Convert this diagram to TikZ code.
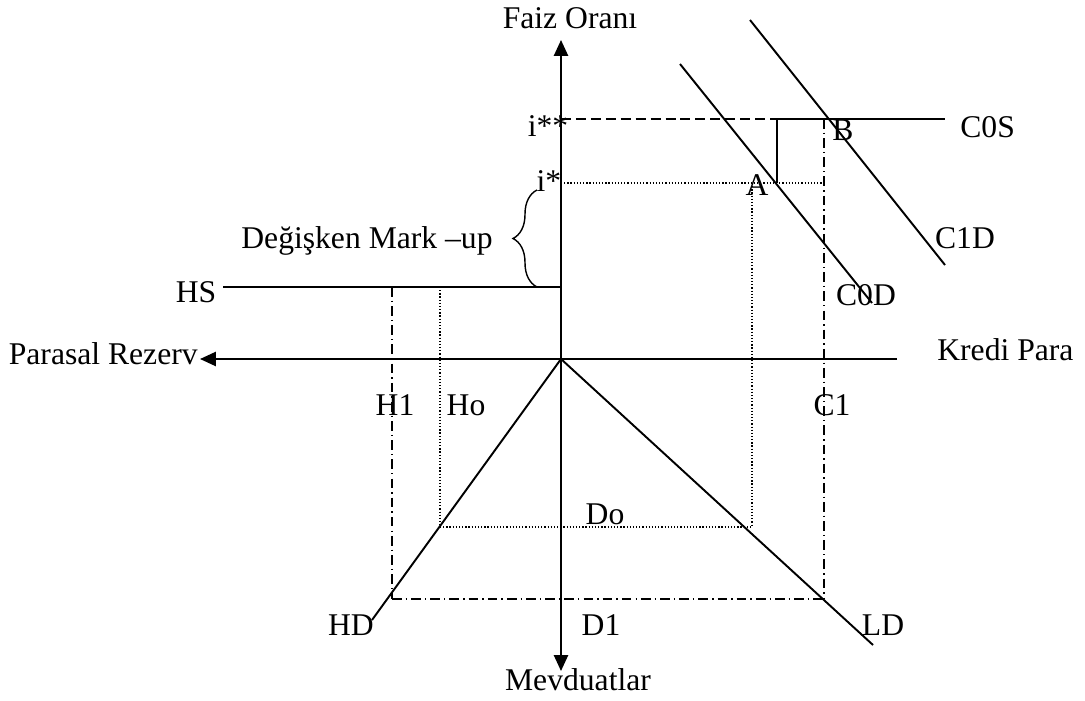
\documentclass[tikz,border=0pt]{standalone}
\usepackage{fontspec}
\setmainfont{Liberation Serif}
\usetikzlibrary{arrows.meta,decorations.pathreplacing}
\begin{document}
\begin{tikzpicture}[x=0.02cm,y=-0.02cm,
  lbl/.style={font=\fontsize{18}{20}\selectfont, inner sep=0pt, anchor=base},
  solidl/.style={line width=1.1pt},
  dotl/.style={line width=0.7pt, dash pattern=on 0.7pt off 1.1pt},
  dashdotl/.style={line width=1pt, dash pattern=on 5.5pt off 2.3pt on 0.8pt off 2.3pt},
  dashl/.style={line width=1pt, dash pattern=on 5.7pt off 2.8pt},
  tip/.style={-{Triangle[length=9pt,width=8pt]}},
  tips/.style={{Triangle[length=9pt,width=8pt]}-{Triangle[length=9pt,width=8pt]}}]
\useasboundingbox (0,0) rectangle (1085,700);
% coordinates
\coordinate (O) at (561,359);
\coordinate (yTop) at (561,40);
\coordinate (yBot) at (561,671);
\coordinate (xL) at (200,359);
\coordinate (xR) at (897,359);
\coordinate (hsL) at (223,287);
\coordinate (hsR) at (561,287);
\coordinate (issL) at (561,119);
\coordinate (kink) at (777,119);
\coordinate (cosR) at (945,119);
\coordinate (Apt) at (777,183);
\coordinate (isL) at (561,183);
\coordinate (isR) at (823,183);
\coordinate (c1T) at (824,119);
\coordinate (c1B) at (824,599);
\coordinate (h1T) at (392,287);
\coordinate (h1B) at (392,599);
\coordinate (doR) at (752,527);
\coordinate (doRT) at (752,183);
\coordinate (doL) at (440,527);
\coordinate (doLT) at (440,287);
\coordinate (hdE) at (372,620);
\coordinate (ldE) at (873,645);
\coordinate (c0dS) at (680,64);
\coordinate (c0dE) at (872,303);
\coordinate (c1dS) at (750,20);
\coordinate (c1dE) at (945,265);
\coordinate (brB) at (537,287);
\coordinate (brT) at (537,190);

% axes
\draw[solidl, tips] (yBot) -- (yTop);
\draw[solidl, tip] (xR) -- (xL);

% supply lines
\draw[solidl] (hsL) -- (hsR);
\draw[dashl] (issL) -- (kink);
\draw[solidl] (kink) -- (cosR);
\draw[solidl] (Apt) -- (kink);
\draw[dotl] (isL) -- (isR);

% guides
\draw[dashdotl] (c1T) -- (c1B);
\draw[dashdotl] (h1B) -- (c1B);
\draw[dashdotl] (h1T) -- (h1B);
\draw[dotl] (doRT) -- (doR);
\draw[dotl] (doLT) -- (doL);
\draw[dotl] (doL) -- (doR);

% demand lines
\draw[solidl] (O) -- (hdE);
\draw[solidl] (O) -- (ldE);
\draw[solidl] (c0dS) -- (c0dE);
\draw[solidl] (c1dS) -- (c1dE);

% brace
\draw[line width=0.8pt, decorate, decoration={brace, amplitude=0.48cm}] (brB) -- (brT);

% labels
\node[lbl] (nFaiz) at (570,28) {Faiz Oranı};
\node[lbl] (nIss) at (548,136) {i**};
\node[lbl] (nIs) at (549,191) {i*};
\node[lbl] (nMark) at (367,248) {Değişken Mark –up};
\node[lbl] (nHS) at (196,302) {HS};
\node[lbl, anchor=base east] (nPR) at (198,364) {Parasal Rezerv};
\node[lbl, anchor=base west] (nKP) at (937,360) {Kredi Para};
\node[lbl] (nH1) at (395,415) {H1};
\node[lbl] (nHo) at (466,415) {Ho};
\node[lbl] (nC1) at (832,415) {C1};
\node[lbl, anchor=base west] (nCOS) at (960,137) {C0S};
\node[lbl] (nB) at (843,140) {B};
\node[lbl] (nA) at (757,195) {A};
\node[lbl] (nC1D) at (965,248) {C1D};
\node[lbl] (nC0D) at (866,305) {C0D};
\node[lbl] (nDo) at (605,524) {Do};
\node[lbl] (nHD) at (351,635) {HD};
\node[lbl] (nD1) at (601,635) {D1};
\node[lbl] (nLD) at (883,635) {LD};
\node[lbl] (nMev) at (578,690) {Mevduatlar};
\end{tikzpicture}
\end{document}
